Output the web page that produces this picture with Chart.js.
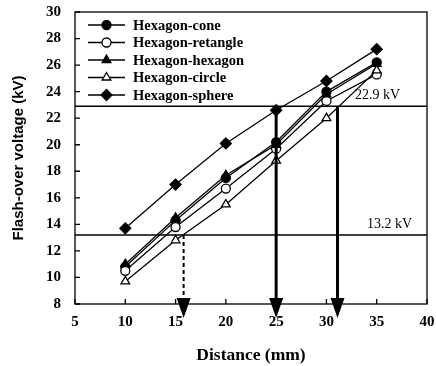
<!DOCTYPE html>
<html>
<head>
<meta charset="utf-8">
<script src="https://cdn.jsdelivr.net/npm/chart.js@4/dist/chart.umd.min.js"></script>
<style>
  html, body { margin: 0; padding: 0; background: #fff; }
  #wrap { width: 436px; height: 366px; position: relative; }
</style>
</head>
<body>
<div id="wrap"><canvas id="c" width="436" height="366"></canvas></div>
<script>
// ─── Data ─────────────────────────────────────────────────
const distances   = [10, 15, 20, 25, 30, 35];
const coneVals    = [10.8, 14.3, 17.5, 20.2, 24.0, 26.2];
const rectVals    = [10.5, 13.8, 16.7, 19.7, 23.3, 25.3];
const hexVals     = [11.0, 14.5, 17.7, 20.0, 23.8, 26.1];
const circleVals  = [9.7, 12.8, 15.5, 18.8, 22.0, 25.6];
const sphereVals  = [13.7, 17.0, 20.1, 22.6, 24.8, 27.2];
const seriesNames = ['Hexagon-cone', 'Hexagon-retangle', 'Hexagon-hexagon', 'Hexagon-circle', 'Hexagon-sphere'];

const xTicks = [5, 10, 15, 20, 25, 30, 35, 40];
const yTicks = [8, 10, 12, 14, 16, 18, 20, 22, 24, 26, 28, 30];

// reference voltage levels (kV) and their labels
const refLevels = [22.9, 13.2];
const refLabels = ['22.9 kV', '13.2 kV'];

// arrows: x position (mm), start voltage (kV), dashed?
const arrowX     = [15.8, 25, 31.1];
const arrowFrom  = [13.2, 22.6, 22.9];
const arrowDash  = [true, false, false];

// ─── Helpers ──────────────────────────────────────────────
const pts = (vals) => distances.map((d, i) => ({ x: d, y: vals[i] }));
const SERIF = '"Liberation Serif", "DejaVu Serif", serif';
const SANS  = '"Liberation Sans", Arial, sans-serif';

const markerStyles = [
    { pointStyle: 'circle',   fill: '#000', radius: 4.5 },
    { pointStyle: 'circle',   fill: '#fff', radius: 4.5 },
    { pointStyle: 'triangle', fill: '#000', radius: 5 },
    { pointStyle: 'triangle', fill: '#fff', radius: 5 },
    { pointStyle: 'rectRot',  fill: '#000', radius: 5.5 },
];

const seriesVals = [coneVals, rectVals, hexVals, circleVals, sphereVals];

const datasets = seriesVals.map((vals, i) => ({
    label: seriesNames[i],
    data: pts(vals),
    borderColor: '#000',
    borderWidth: 1.3,
    pointStyle: markerStyles[i].pointStyle,
    pointRadius: markerStyles[i].radius,
    pointBackgroundColor: markerStyles[i].fill,
    pointBorderColor: '#000',
    pointBorderWidth: 1.3,
    tension: 0,
    order: 5 - i,
}));

refLevels.forEach(v => {
    datasets.push({
        label: '_ref',
        data: [{ x: xTicks[0], y: v }, { x: xTicks[xTicks.length - 1], y: v }],
        borderColor: '#000',
        borderWidth: 1.3,
        pointRadius: 0,
        tension: 0,
        order: 10,
    });
});

// ─── Plugins ──────────────────────────────────────────────
const frameTicks = {
    id: 'frameTicks',
    afterDatasetsDraw(chart) {
        const { ctx, chartArea: a, scales: { x, y } } = chart;
        ctx.save();
        ctx.strokeStyle = '#000';
        ctx.lineWidth = 1.3;
        ctx.strokeRect(a.left, a.top, a.right - a.left, a.bottom - a.top);
        ctx.beginPath();
        xTicks.forEach(t => {
            const px = x.getPixelForValue(t);
            ctx.moveTo(px, a.bottom); ctx.lineTo(px, a.bottom - 5);
        });
        yTicks.forEach(t => {
            const py = y.getPixelForValue(t);
            ctx.moveTo(a.left, py); ctx.lineTo(a.left + 5, py);
        });
        ctx.stroke();

        // arrows
        arrowX.forEach((ax, i) => {
            const px = x.getPixelForValue(ax);
            const y0 = y.getPixelForValue(arrowFrom[i]);
            const tip = a.bottom + 14;
            const headLen = 20, headW = 7;
            ctx.beginPath();
            ctx.setLineDash(arrowDash[i] ? [4, 3] : []);
            ctx.lineWidth = arrowDash[i] ? 2 : 3;
            ctx.moveTo(px, y0);
            ctx.lineTo(px, tip - headLen + 2);
            ctx.stroke();
            ctx.setLineDash([]);
            ctx.beginPath();
            ctx.moveTo(px - headW, tip - headLen);
            ctx.lineTo(px + headW, tip - headLen);
            ctx.lineTo(px, tip);
            ctx.closePath();
            ctx.fillStyle = '#000';
            ctx.fill();
        });

        // level labels
        ctx.font = '14px ' + SERIF;
        ctx.fillStyle = '#000';
        ctx.textAlign = 'right';
        ctx.textBaseline = 'alphabetic';
        refLevels.forEach((v, i) => {
            const py = y.getPixelForValue(v);
            ctx.fillText(refLabels[i], a.right - (i === 0 ? 27 : 15), py - 7);
        });
        ctx.restore();
    }
};

const lineLegend = {
    id: 'lineLegend',
    afterDraw(chart) {
        const { ctx, chartArea: a } = chart;
        ctx.save();
        const x0 = a.left + 13, x1 = a.left + 50, tx = a.left + 58;
        seriesNames.forEach((name, i) => {
            const yy = a.top + 13 + i * 17.5;
            ctx.strokeStyle = '#000';
            ctx.lineWidth = 1.5;
            ctx.beginPath();
            ctx.moveTo(x0, yy); ctx.lineTo(x1, yy);
            ctx.stroke();
            ctx.fillStyle = markerStyles[i].fill;
            ctx.lineWidth = 1.3;
            Chart.helpers.drawPoint(ctx, {
                pointStyle: markerStyles[i].pointStyle,
                radius: markerStyles[i].radius,
                borderWidth: 1.3,
                rotation: 0,
            }, (x0 + x1) / 2, yy);
            ctx.fillStyle = '#000';
            ctx.font = 'bold 14.5px ' + SERIF;
            ctx.textAlign = 'left';
            ctx.textBaseline = 'middle';
            ctx.fillText(name, tx, yy + 1);
        });
        ctx.restore();
    }
};

const noPad = (s) => { s.paddingTop = 0; s.paddingBottom = 0; s.paddingLeft = 0; s.paddingRight = 0; };

// ─── Chart ────────────────────────────────────────────────
new Chart(document.getElementById('c'), {
    type: 'line',
    data: { datasets },
    options: {
        responsive: false,
        animation: false,
        events: [],
        layout: { padding: { top: 12, right: 9, left: 0, bottom: 0 } },
        plugins: { legend: { display: false }, tooltip: { enabled: false } },
        scales: {
            x: {
                type: 'linear',
                min: 5, max: 40,
                afterBuildTicks: (s) => { s.ticks = xTicks.map(v => ({ value: v })); },
                afterFit: (s) => { s.height = 62; noPad(s); },
                grid: { display: false, drawTicks: false },
                border: { display: false },
                ticks: { color: '#000', padding: 9, font: { family: SERIF, size: 15, weight: 'bold' } },
                title: {
                    display: true, text: 'Distance (mm)', color: '#000',
                    font: { family: SERIF, size: 17.5, weight: 'bold' },
                    padding: { top: 6, bottom: 0 }
                }
            },
            y: {
                min: 8, max: 30,
                afterBuildTicks: (s) => { s.ticks = yTicks.map(v => ({ value: v })); },
                afterFit: (s) => { s.width = 75; noPad(s); },
                grid: { display: false, drawTicks: false },
                border: { display: false },
                ticks: { color: '#000', padding: 14, font: { family: SERIF, size: 15, weight: 'bold' } },
                title: {
                    display: true, text: 'Flash-over voltage (kV)', color: '#000',
                    font: { family: SANS, size: 15, weight: 'bold' },
                    padding: { top: 10, bottom: 0 }
                }
            }
        }
    },
    plugins: [frameTicks, lineLegend]
});
</script>
</body>
</html>
